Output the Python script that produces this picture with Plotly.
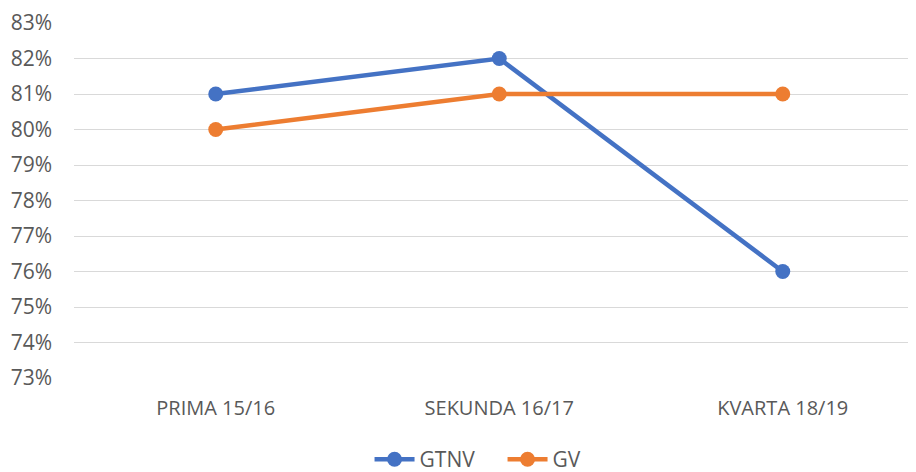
import plotly.graph_objects as go

categories = ["PRIMA 15/16", "SEKUNDA 16/17", "KVARTA 18/19"]
gtnv = [0.81, 0.82, 0.76]
gv = [0.80, 0.81, 0.81]
y_ticks = [0.73, 0.74, 0.75, 0.76, 0.77, 0.78, 0.79, 0.80, 0.81, 0.82, 0.83]

fig = go.Figure()
fig.add_trace(go.Scatter(x=categories, y=gtnv, name="GTNV", mode="lines+markers",
                         line=dict(color="#4472C4", width=4.5),
                         marker=dict(size=15, color="#4472C4")))
fig.add_trace(go.Scatter(x=categories, y=gv, name="GV", mode="lines+markers",
                         line=dict(color="#ED7D31", width=4.5),
                         marker=dict(size=15, color="#ED7D31")))

fig.update_layout(
    width=916, height=472,
    margin=dict(l=66, r=8, t=15, b=102, autoexpand=False),
    plot_bgcolor="white", paper_bgcolor="white",
    font=dict(family="Open Sans, Lato, sans-serif", size=20, color="#595959"),
    showlegend=True,
    legend=dict(orientation="h", x=0.351, xanchor="left", y=-0.172, yanchor="top",
                font=dict(size=21, color="#595959"), itemwidth=40,
                entrywidth=78, entrywidthmode="pixels"),
    xaxis=dict(type="category", range=[-0.5, 2.47], showgrid=False, showline=False,
               ticks="", automargin=False, ticklabelstandoff=16,
               tickfont=dict(size=20, color="#595959")),
    yaxis=dict(range=[0.73, 0.83], tickvals=y_ticks, tickformat=".0%",
               showgrid=True, gridcolor="#D9D9D9", gridwidth=1.3, zeroline=False,
               showline=False, ticks="", ticklabelstandoff=21, automargin=False,
               tickfont=dict(size=21, color="#595959")),
)

fig.write_html("out.html")
